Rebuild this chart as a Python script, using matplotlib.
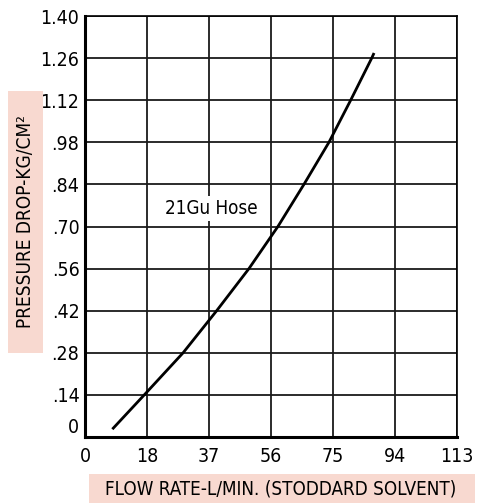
import matplotlib
matplotlib.use("Agg")
import matplotlib.pyplot as plt
from matplotlib.patches import Rectangle
import matplotlib.font_manager as fm

flow = [8.3, 18.0, 29.8, 40.0, 49.8, 58.6, 66.5, 74.1, 80.7, 87.1, 87.8]
pressure = [0.026, 0.14, 0.28, 0.42, 0.56, 0.70, 0.84, 0.98, 1.12, 1.26, 1.277]
x_tick_labels = ["0", "18", "37", "56", "75", "94", "113"]
y_tick_labels = ["0", ".14", ".28", ".42", ".56", ".70", ".84", ".98", "1.12", "1.26", "1.40"]
series_label = "21Gu Hose"
x_label = "FLOW RATE-L/MIN. (STODDARD SOLVENT)"
y_label = "PRESSURE DROP-KG/CM²"

names = {f.name for f in fm.fontManager.ttflist}
cond = [f for f in fm.fontManager.ttflist if f.name == "DejaVu Sans" and f.stretch == 'condensed']
if "Liberation Sans Narrow" in names:
    fam, stretch = "Liberation Sans Narrow", 'normal'
elif cond:
    fam, stretch = "DejaVu Sans", 'condensed'
else:
    fam, stretch = "Liberation Sans", 'normal'
plt.rcParams['font.family'] = [fam, 'DejaVu Sans']
plt.rcParams['font.stretch'] = stretch

W, H = 484, 503
fig = plt.figure(figsize=(W/100, H/100), dpi=100)
ax_l, ax_r, ax_t, ax_b = 85, 457, 16, 437
ax = fig.add_axes([ax_l/W, 1-ax_b/H, (ax_r-ax_l)/W, (ax_b-ax_t)/H])

xmax = 113
xt = [i*xmax/6 for i in range(7)]
yt = [i*0.14 for i in range(11)]
ax.set_xlim(0, xmax)
ax.set_ylim(0, 1.40)
ax.set_xticks(xt)
ax.set_xticklabels(x_tick_labels)
ax.set_yticks(yt)
ax.set_yticklabels(y_tick_labels)
ax.tick_params(length=0, labelsize=14)
ax.tick_params(axis='y', pad=4)
ax.tick_params(axis='x', pad=7)
for lab in ax.get_xticklabels() + ax.get_yticklabels():
    lab.set_color('black')
    lab.set_fontstretch(stretch)
ax.get_yticklabels()[0].set_va('bottom')
ax.grid(True, color='#1a1a1a', linewidth=1.3)
ax.set_axisbelow(True)
for s in ['top', 'right']:
    ax.spines[s].set_linewidth(1.2)
for s in ['left', 'bottom']:
    ax.spines[s].set_linewidth(2.2)

ax.plot(flow, pressure, color='black', linewidth=2.0, zorder=3, solid_capstyle='butt',
        solid_joinstyle='round')
ax.text(24.3, 0.76, series_label, fontsize=13.5, va='center', ha='left', fontstretch=stretch,
        bbox=dict(facecolor='white', edgecolor='none', pad=2), zorder=4)

bg = '#F8D9D0'
fig.patches.append(Rectangle((8/W, 1-353/H), 35/W, 262/H, transform=fig.transFigure,
                             facecolor=bg, edgecolor='none'))
fig.text(25.5/W, 1-221/H, y_label, rotation=90, fontsize=13.7, ha='center', va='center', fontstretch=stretch)
fig.patches.append(Rectangle((89/W, 0), 386/W, 29/H, transform=fig.transFigure,
                             facecolor=bg, edgecolor='none'))
fig.text(281/W, 1-489/H, x_label, fontsize=13.5, ha='center', va='center', fontstretch=stretch)

fig.savefig("out.png", dpi=100)
